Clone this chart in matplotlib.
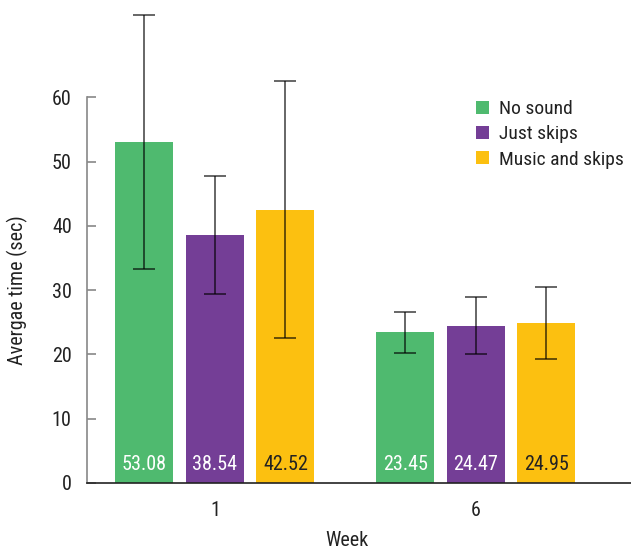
import matplotlib
matplotlib.use('Agg')
import matplotlib.pyplot as plt
from matplotlib import font_manager as fm
import numpy as np


def pick_font():
    # the reference uses a condensed sans; take the first narrow face available
    for fam in ['Liberation Sans Narrow', 'Roboto Condensed', 'Open Sans Condensed']:
        try:
            fm.findfont(fm.FontProperties(family=fam), fallback_to_default=False)
            return fam, 'normal'
        except ValueError:
            pass
    path = fm.findfont(fm.FontProperties(family='DejaVu Sans', stretch='condensed'))
    if 'Condensed' in path:
        return 'DejaVu Sans', 'condensed'
    return 'Liberation Sans', 'normal'


fam, stretch = pick_font()
plt.rcParams['font.family'] = [fam, 'DejaVu Sans']
plt.rcParams['font.stretch'] = stretch

weeks = ['1', '6']
groups = ['No sound', 'Just skips', 'Music and skips']
means = {
    'No sound': [53.08, 23.45],
    'Just skips': [38.54, 24.47],
    'Music and skips': [42.52, 24.95],
}
errors = {
    'No sound': [19.8, 3.2],
    'Just skips': [9.2, 4.4],
    'Music and skips': [20.0, 5.6],
}
colors = ['#4fba6f', '#743e96', '#fcc010']
label_colors = ['white', 'white', '#222222']

fs = 14.5 if fam != 'Liberation Sans' else 13

fig = plt.figure(figsize=(6.31, 5.52), dpi=100)
ax = fig.add_axes([87 / 631, 69 / 552, 544 / 631, 482 / 552])

x = np.arange(len(weeks))
pitch = 0.27
width = 0.222
for i, g in enumerate(groups):
    xs = x + (i - 1) * pitch
    ax.bar(xs, means[g], width=width, color=colors[i], label=g, zorder=2)
    ax.errorbar(xs, means[g], yerr=errors[g], fmt='none', ecolor='black', alpha=0.6,
                elinewidth=1.4, capsize=8, capthick=1.4, zorder=3)
    for xv, v in zip(xs, means[g]):
        ax.text(xv, 2.9, '{:.2f}'.format(v), ha='center', va='center',
                color=label_colors[i], fontsize=fs, zorder=4)

ax.set_xlim(-0.49, 1.594)
ax.set_ylim(0, 75)
ax.set_yticks([0, 10, 20, 30, 40, 50, 60])
ax.set_xticks(x)
ax.set_xticklabels(weeks)

for s in ['top', 'right']:
    ax.spines[s].set_visible(False)
ax.spines['left'].set_bounds(0, 60)
ax.spines['left'].set_color('#888888')
ax.spines['left'].set_linewidth(1.2)
ax.spines['bottom'].set_color('#222222')
ax.spines['bottom'].set_linewidth(1.2)

ax.tick_params(axis='y', direction='in', length=6.5, width=1.2, color='#888888',
               pad=11, labelsize=fs, labelcolor='#222222')
ax.tick_params(axis='x', length=0, pad=13, labelsize=fs, labelcolor='#222222')

ax.set_ylabel('Avergae time (sec)', fontsize=fs, color='#222222')
ax.yaxis.set_label_coords(-0.108, 30 / 75)
ax.set_xlabel('Week', fontsize=fs, color='#222222')
ax.xaxis.set_label_coords(0.478, -0.1)

leg = ax.legend(loc='upper left', bbox_to_anchor=(476 / 631, 1 - 100 / 552), bbox_transform=fig.transFigure,
                frameon=False, fontsize=14, handlelength=0.65, handleheight=0.65,
                handletextpad=0.55, labelspacing=0.38, borderpad=0, borderaxespad=0)
for t in leg.get_texts():
    t.set_color('#222222')

fig.savefig('out.png', dpi=100)
